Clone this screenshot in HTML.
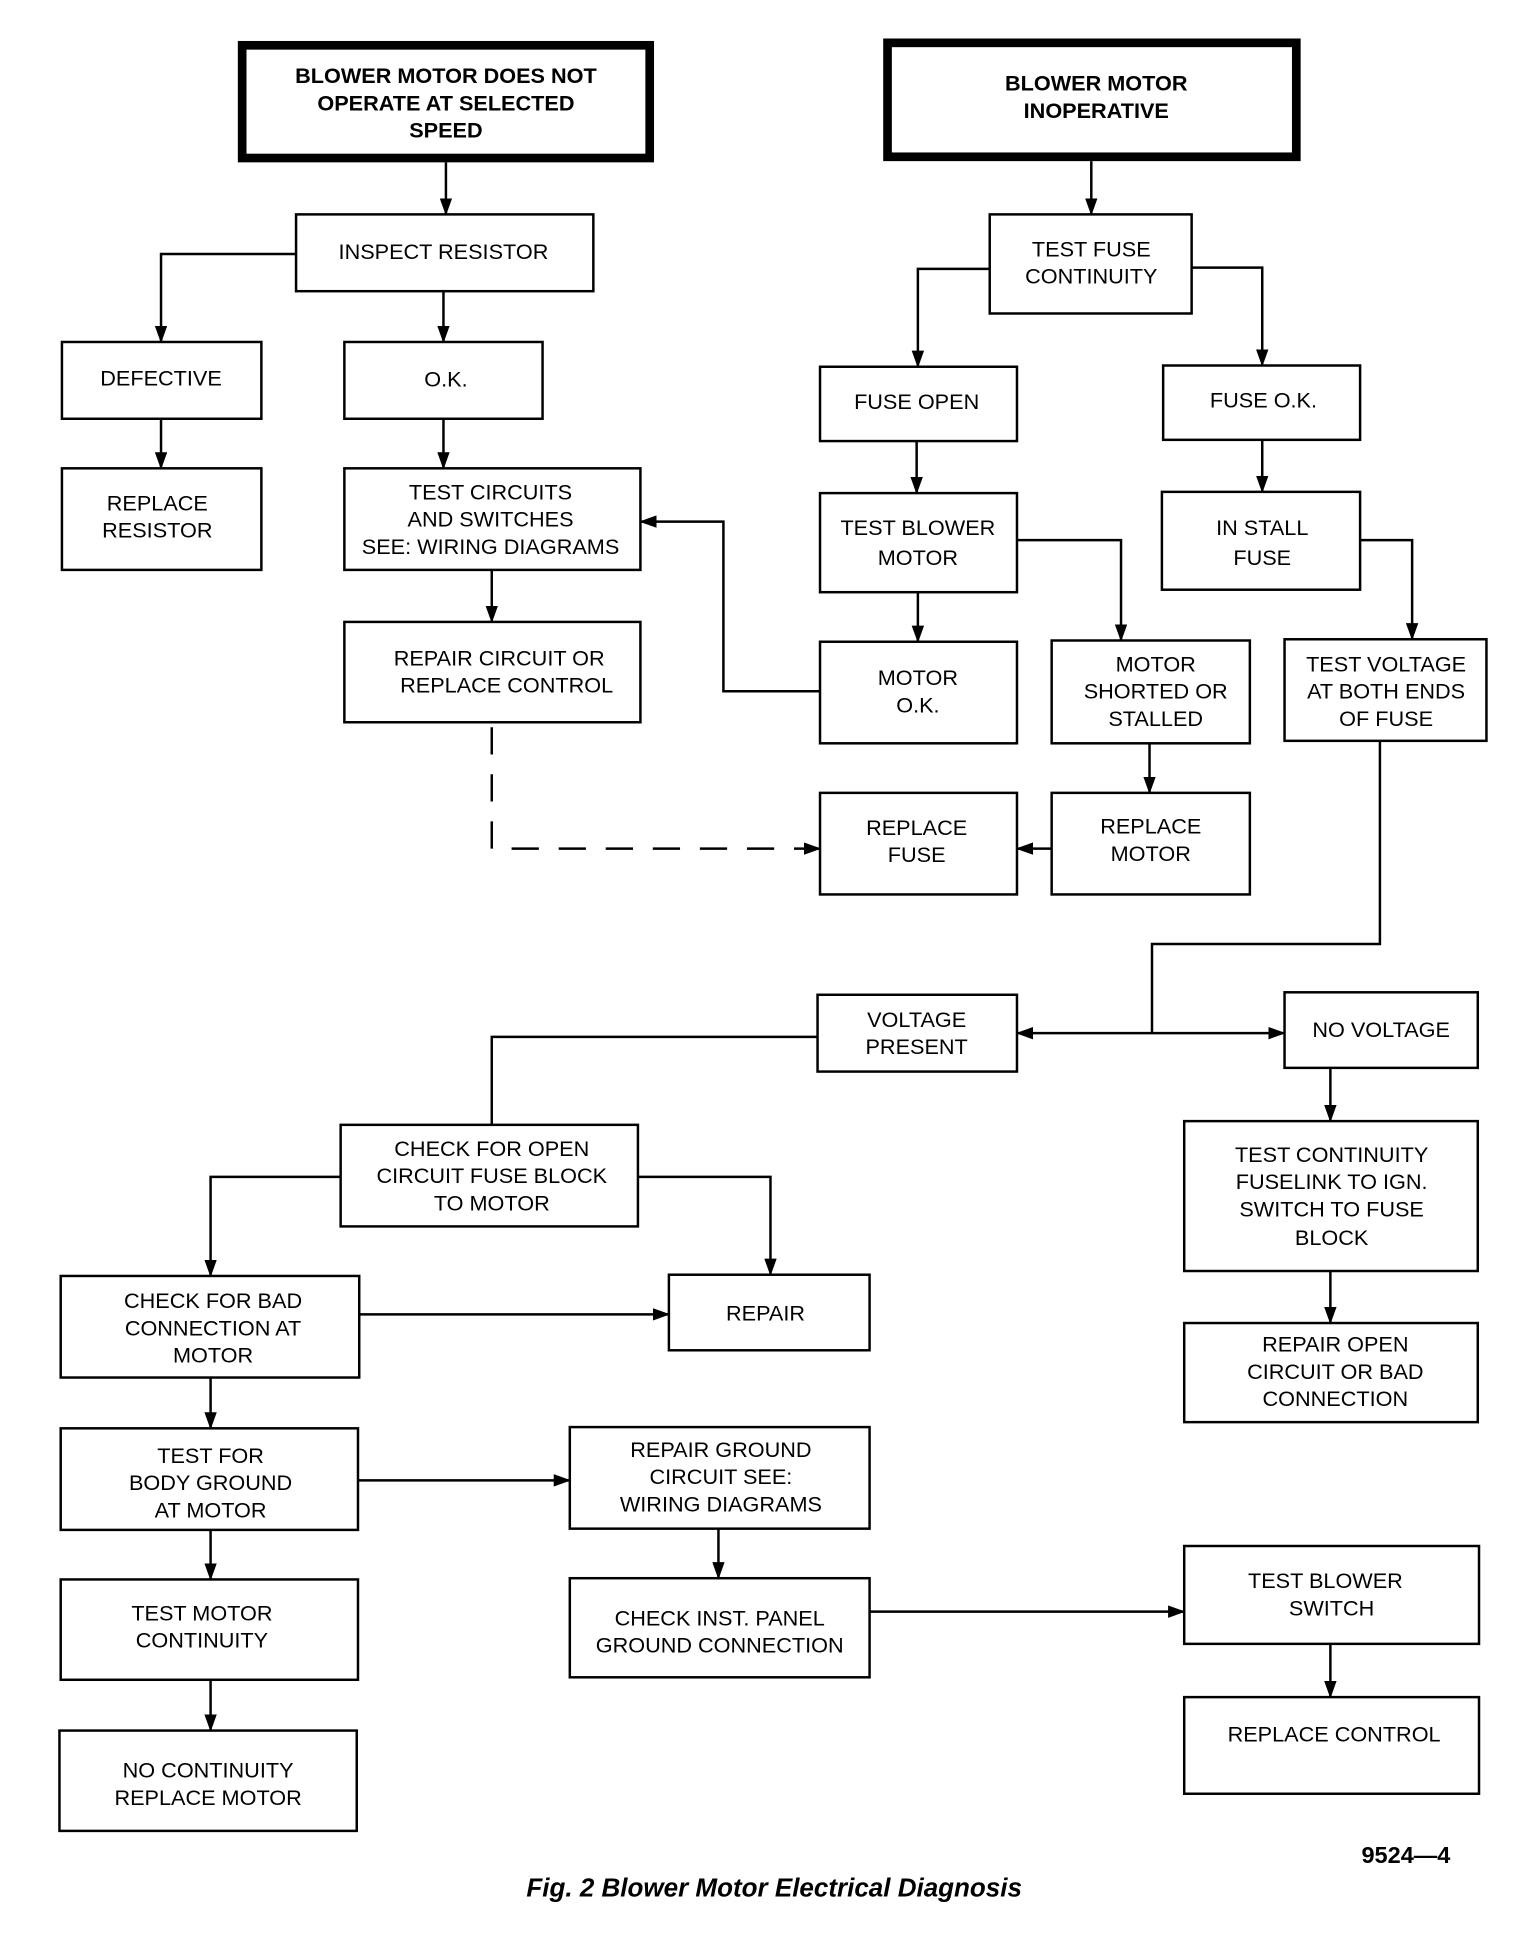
<!DOCTYPE html>
<html><head><meta charset="utf-8"><style>
html,body{margin:0;padding:0;background:#fff}
svg{display:block}
text{font-family:"Liberation Sans",sans-serif;font-size:17.5px;fill:#000;text-anchor:middle}
.b{font-weight:bold}
</style></head><body>
<svg width="1536" height="1940" viewBox="0 0 1240 1566" xmlns="http://www.w3.org/2000/svg">
<defs><marker id="a" markerWidth="14" markerHeight="10" refX="13" refY="5" orient="auto" markerUnits="userSpaceOnUse"><path d="M0,0 L14,5 L0,10 Z" fill="#000"/></marker></defs>
<g fill="none" stroke="#000" stroke-width="7">
<rect x="195.5" y="36.5" width="329" height="91"/>
<rect x="716.5" y="34.5" width="330" height="92"/>
</g>
<g fill="none" stroke="#000" stroke-width="2">
<rect x="239" y="173" width="240" height="62"/>
<rect x="50" y="276" width="161" height="62"/>
<rect x="278" y="276" width="160" height="62"/>
<rect x="50" y="378" width="161" height="82"/>
<rect x="278" y="378" width="239" height="82"/>
<rect x="278" y="502" width="239" height="81"/>
<rect x="799" y="173" width="163" height="80"/>
<rect x="662" y="296" width="159" height="60"/>
<rect x="939" y="295" width="159" height="60"/>
<rect x="662" y="398" width="159" height="80"/>
<rect x="938" y="397" width="160" height="79"/>
<rect x="662" y="518" width="159" height="82"/>
<rect x="849" y="517" width="160" height="83"/>
<rect x="1037" y="516" width="163" height="82"/>
<rect x="662" y="640" width="159" height="82"/>
<rect x="849" y="640" width="160" height="82"/>
<rect x="660" y="803" width="161" height="62"/>
<rect x="1037" y="801" width="156" height="61"/>
<rect x="275" y="908" width="240" height="82"/>
<rect x="956" y="905" width="237" height="121"/>
<rect x="49" y="1030" width="241" height="82"/>
<rect x="540" y="1029" width="162" height="61"/>
<rect x="956" y="1068" width="237" height="80"/>
<rect x="49" y="1153" width="240" height="82"/>
<rect x="460" y="1152" width="242" height="82"/>
<rect x="49" y="1275" width="240" height="81"/>
<rect x="460" y="1274" width="242" height="80"/>
<rect x="956" y="1248" width="238" height="79"/>
<rect x="48" y="1397" width="240" height="81"/>
<rect x="956" y="1370" width="238" height="78"/>
</g>
<g fill="none" stroke="#000" stroke-width="2" marker-end="url(#a)">
<path d="M360,131 V173"/>
<path d="M239,205 H130 V276"/>
<path d="M358,235 V276"/>
<path d="M130,338 V378"/>
<path d="M358,338 V378"/>
<path d="M397,460 V502"/>
<path d="M662,558 H584 V421 H517"/>
<path d="M397,587 V685 H662" stroke-dasharray="22,16"/>
<path d="M881,130 V173"/>
<path d="M799,217 H741 V296"/>
<path d="M962,216 H1019 V295"/>
<path d="M740,356 V398"/>
<path d="M821,436 H905 V517"/>
<path d="M741,478 V518"/>
<path d="M928,600 V640"/>
<path d="M849,685 H821"/>
<path d="M1019,355 V397"/>
<path d="M1098,436 H1140 V516"/>
<path d="M930,834 H821"/>
<path d="M930,834 H1037"/>
<path d="M275,950 H170 V1030"/>
<path d="M515,950 H622 V1029"/>
<path d="M290,1061 H540"/>
<path d="M170,1112 V1153"/>
<path d="M170,1235 V1275"/>
<path d="M170,1356 V1397"/>
<path d="M289,1195 H460"/>
<path d="M580,1234 V1274"/>
<path d="M702,1301 H956"/>
<path d="M1074,862 V905"/>
<path d="M1074,1026 V1068"/>
<path d="M1074,1327 V1370"/>
</g>
<g fill="none" stroke="#000" stroke-width="2">
<path d="M1114,598 V762 H930 V834"/>
<path d="M660,837 H397 V908"/>
</g>
<g class="b">
<text x="360" y="67">BLOWER MOTOR DOES NOT</text>
<text x="360" y="89">OPERATE AT SELECTED</text>
<text x="360" y="111">SPEED</text>
<text x="885" y="73">BLOWER MOTOR</text>
<text x="885" y="95">INOPERATIVE</text>
</g>
<text x="358" y="209">INSPECT RESISTOR</text>
<text x="130" y="311">DEFECTIVE</text>
<text x="360" y="312">O.K.</text>
<text x="127" y="412">REPLACE</text>
<text x="127" y="434">RESISTOR</text>
<text x="396" y="403">TEST CIRCUITS</text>
<text x="396" y="425">AND SWITCHES</text>
<text x="396" y="447">SEE:  WIRING DIAGRAMS</text>
<text x="403" y="537">REPAIR CIRCUIT OR</text>
<text x="409" y="559">REPLACE CONTROL</text>
<text x="881" y="207">TEST FUSE</text>
<text x="881" y="229">CONTINUITY</text>
<text x="740" y="330">FUSE OPEN</text>
<text x="1020" y="329">FUSE O.K.</text>
<text x="741" y="432">TEST BLOWER</text>
<text x="741" y="456">MOTOR</text>
<text x="1019" y="432">IN STALL</text>
<text x="1019" y="456">FUSE</text>
<text x="741" y="553">MOTOR</text>
<text x="741" y="575">O.K.</text>
<text x="933" y="542">MOTOR</text>
<text x="933" y="564">SHORTED OR</text>
<text x="933" y="586">STALLED</text>
<text x="1119" y="542">TEST VOLTAGE</text>
<text x="1119" y="564">AT BOTH ENDS</text>
<text x="1119" y="586">OF FUSE</text>
<text x="740" y="674">REPLACE</text>
<text x="740" y="696">FUSE</text>
<text x="929" y="673">REPLACE</text>
<text x="929" y="695">MOTOR</text>
<text x="740" y="829">VOLTAGE</text>
<text x="740" y="851">PRESENT</text>
<text x="1115" y="837">NO  VOLTAGE</text>
<text x="397" y="933">CHECK FOR OPEN</text>
<text x="397" y="955">CIRCUIT FUSE BLOCK</text>
<text x="397" y="977">TO MOTOR</text>
<text x="1075" y="938">TEST CONTINUITY</text>
<text x="1075" y="960">FUSELINK TO IGN.</text>
<text x="1075" y="982">SWITCH TO FUSE</text>
<text x="1075" y="1005">BLOCK</text>
<text x="172" y="1056">CHECK FOR BAD</text>
<text x="172" y="1078">CONNECTION AT</text>
<text x="172" y="1100">MOTOR</text>
<text x="618" y="1066">REPAIR</text>
<text x="1078" y="1091">REPAIR OPEN</text>
<text x="1078" y="1113">CIRCUIT OR BAD</text>
<text x="1078" y="1135">CONNECTION</text>
<text x="170" y="1181">TEST FOR</text>
<text x="170" y="1203">BODY GROUND</text>
<text x="170" y="1225">AT MOTOR</text>
<text x="582" y="1176">REPAIR GROUND</text>
<text x="582" y="1198">CIRCUIT SEE:</text>
<text x="582" y="1220">WIRING DIAGRAMS</text>
<text x="163" y="1308">TEST MOTOR</text>
<text x="163" y="1330">CONTINUITY</text>
<text x="581" y="1312">CHECK INST. PANEL</text>
<text x="581" y="1334">GROUND CONNECTION</text>
<text x="1070" y="1282">TEST BLOWER</text>
<text x="1075" y="1304">SWITCH</text>
<text x="168" y="1435">NO  CONTINUITY</text>
<text x="168" y="1457">REPLACE MOTOR</text>
<text x="1077" y="1406">REPLACE CONTROL</text>
<text class="b" x="1135" y="1504" style="font-size:19px">9524—4</text>
<text class="b" x="625" y="1531" style="font-size:21px;font-style:italic">Fig. 2 Blower Motor Electrical Diagnosis</text>
</svg>
</body></html>
